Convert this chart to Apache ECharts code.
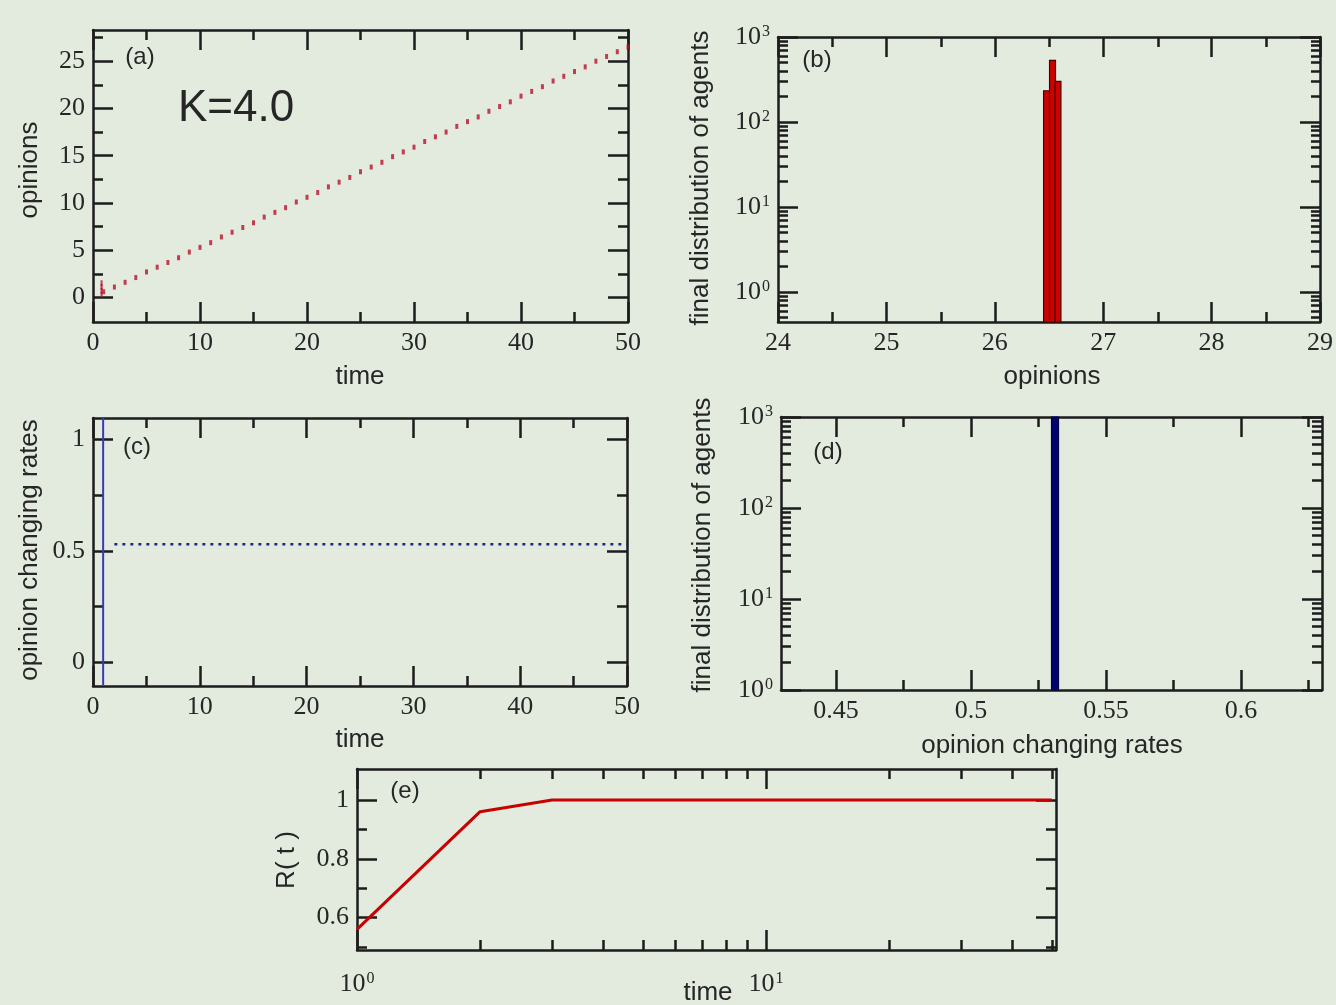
<!DOCTYPE html>
<html>
<head>
<meta charset="utf-8">
<title>opinion dynamics K=4.0</title>
<script src="https://cdn.jsdelivr.net/npm/echarts@6/dist/echarts.min.js"></script>
<style>
  html, body { margin: 0; padding: 0; background: #e3ebdf; }
  #chart { width: 1336px; height: 1005px; }
</style>
</head>
<body>
<div id="chart"></div>
<script>
// ---- data ----
// (a) opinions vs time
const timeA = [1,2,3,4,5,6,7,8,9,10,11,12,13,14,15,16,17,18,19,20,21,22,23,24,25,
  26,27,28,29,30,31,32,33,34,35,36,37,38,39,40,41,42,43,44,45,46,47,48,49,50];
const opinionA = [0.6,1.1,1.6,2.1,2.7,3.2,3.7,4.2,4.8,5.3,5.8,6.4,6.9,7.4,7.9,8.5,9.0,
  9.5,10.1,10.6,11.1,11.7,12.2,12.7,13.3,13.8,14.3,14.9,15.4,15.9,16.5,17.0,17.5,18.1,
  18.6,19.1,19.7,20.2,20.7,21.3,21.8,22.3,22.9,23.4,23.9,24.4,25.0,25.5,26.0,26.5];
const initTimeA = [0.8, 0.8, 0.8, 0.8];
const initOpinionA = [0.3, 0.7, 1.1, 1.5];

// (b) histogram of final opinions
const binLeftB = [26.45, 26.505, 26.555];
const binWidthB = 0.055;
const countB = [233, 532, 300];

// (c) opinion changing rates vs time
const initRateTime = 0.95;
const initRateRange = [-0.1, 1.1];
const timeC = [2,3,4,5,6,7,8,9,10,11,12,13,14,15,16,17,18,19,20,21,22,23,24,25,
  26,27,28,29,30,31,32,33,34,35,36,37,38,39,40,41,42,43,44,45,46,47,48,49,50];
const rateC = [0.53,0.53,0.53,0.53,0.53,0.53,0.53,0.53,0.53,0.53,0.53,0.53,0.53,0.53,
  0.53,0.53,0.53,0.53,0.53,0.53,0.53,0.53,0.53,0.53,0.53,0.53,0.53,0.53,0.53,0.53,0.53,
  0.53,0.53,0.53,0.53,0.53,0.53,0.53,0.53,0.53,0.53,0.53,0.53,0.53,0.53,0.53,0.53,0.53,0.53];

// (d) histogram of final changing rates
const binLeftD = [0.5298];
const binWidthD = 0.0026;
const countD = [1000];

// (e) R(t)
const timeE = [1, 2, 3, 4, 5, 7, 10, 20, 30, 40, 50];
const rE = [0.56, 0.96, 1.0, 1.0, 1.0, 1.0, 1.0, 1.0, 1.0, 1.0, 1.0];

// tick positions
const ticksLin50 = { major: [0,10,20,30,40,50], minor: [5,15,25,35,45] };
const ticksOpinA = { major: [0,5,10,15,20,25], minor: [2.5,7.5,12.5,17.5,22.5,27.5] };
const ticksOpinB = { major: [24,25,26,27,28,29], minor: [24.5,25.5,26.5,27.5,28.5] };
const ticksRateC = { major: [0,0.5,1], minor: [0.25,0.75] };
const ticksRateD = { major: [0.45,0.5,0.55,0.6], minor: [0.475,0.525,0.575,0.625] };
const ticksLog3 = { major: [1,10,100,1000],
  minor: [0.5,0.6,0.7,0.8,0.9,2,3,4,5,6,7,8,9,20,30,40,50,60,70,80,90,200,300,400,500,600,700,800,900] };
const ticksTimeE = { major: [1,10], minor: [2,3,4,5,6,7,8,9,20,30,40,50] };
const ticksRE = { major: [0.6,0.8,1], minor: [0.5,0.7,0.9] };

// ---- styling ----
const INK = '#1c1c1c';
const TXT = '#262626';
const serif = '"Liberation Serif", "DejaVu Serif", serif';
const sans = '"Liberation Sans", Arial, sans-serif';

const rects = [
  { left: 93,  top: 30,  width: 535, height: 292 },  // a
  { left: 778, top: 37,  width: 543, height: 285 },  // b
  { left: 93,  top: 418, width: 534, height: 268 },  // c
  { left: 781, top: 417, width: 541, height: 273 },  // d
  { left: 357, top: 769, width: 699, height: 181 }   // e
];

const logFmt = v => '10{s|' + Math.round(Math.log10(v)) + '}';
const supRich = { s: { fontSize: 16, fontFamily: serif, color: TXT, verticalAlign: 'top', padding: [0, 0, 0, 1] } };

// x / y specs per panel
const panels = [
  { x: { type: 'value', min: 0, max: 50, t: ticksLin50 },
    y: { type: 'value', min: -2.6, max: 28.3, t: ticksOpinA } },
  { x: { type: 'value', min: 24, max: 29, t: ticksOpinB },
    y: { type: 'log', min: 0.443, max: 1000, t: ticksLog3, fmt: logFmt } },
  { x: { type: 'value', min: 0, max: 50, t: ticksLin50 },
    y: { type: 'value', min: -0.105, max: 1.095, t: ticksRateC } },
  { x: { type: 'value', min: 0.4296, max: 0.63, t: ticksRateD },
    y: { type: 'log', min: 1, max: 1000, t: ticksLog3, fmt: logFmt } },
  { x: { type: 'log', min: 1, max: 51.2, t: ticksTimeE, fmt: logFmt, margin: 21 },
    y: { type: 'value', min: 0.49, max: 1.105, t: ticksRE } }
];

const grid = [];
const xAxis = [];
const yAxis = [];

function axis(gridIndex, pos, spec, layer) {
  const main = layer === 'main';
  const withLabels = main && (pos === 'bottom' || pos === 'left');
  const a = {
    gridIndex: gridIndex,
    type: spec.type,
    position: pos,
    min: spec.min,
    max: spec.max,
    splitLine: { show: false },
    axisLine: { show: main, onZero: false, lineStyle: { color: INK, width: 2.5 } },
    axisTick: {
      show: true, inside: true,
      length: main ? 20 : 10,
      customValues: main ? spec.t.major : spec.t.minor,
      lineStyle: { color: INK, width: 2.5 }
    },
    axisLabel: {
      show: withLabels,
      customValues: spec.t.major,
      fontFamily: serif, fontSize: 26, color: TXT,
      margin: spec.margin || 8,
      rich: supRich
    }
  };
  if (spec.type === 'log') a.logBase = 10;
  if (spec.fmt) a.axisLabel.formatter = spec.fmt;
  return a;
}

panels.forEach((p, i) => {
  grid[i] = Object.assign({}, rects[i]);
  grid[i + 5] = Object.assign({}, rects[i]);
});
// main axes first (index 2*i bottom/left, 2*i+1 top/right), then minor-tick overlays
panels.forEach((p, i) => {
  xAxis.push(axis(i, 'bottom', p.x, 'main'), axis(i, 'top', p.x, 'main'));
  yAxis.push(axis(i, 'left', p.y, 'main'), axis(i, 'right', p.y, 'main'));
});
panels.forEach((p, i) => {
  xAxis.push(axis(i + 5, 'bottom', p.x, 'minor'), axis(i + 5, 'top', p.x, 'minor'));
  yAxis.push(axis(i + 5, 'left', p.y, 'minor'), axis(i + 5, 'right', p.y, 'minor'));
});

function histRender(fill, stroke) {
  return function (params, api) {
    const cs = params.coordSys;
    const pTop = api.coord([api.value(0), api.value(2)]);
    const pEnd = api.coord([api.value(1), api.value(2)]);
    const bottom = cs.y + cs.height;
    return {
      type: 'rect',
      shape: { x: pTop[0], y: pTop[1], width: pEnd[0] - pTop[0], height: bottom - pTop[1] },
      style: { fill: fill, stroke: stroke, lineWidth: 1.2 }
    };
  };
}

const series = [
  // (a)
  { type: 'scatter', xAxisIndex: 0, yAxisIndex: 0,
    data: timeA.map((t, k) => [t, opinionA[k]]),
    symbol: 'rect', symbolSize: [3, 5], itemStyle: { color: '#b8102a' }, silent: true },
  { type: 'scatter', xAxisIndex: 0, yAxisIndex: 0,
    data: initTimeA.map((t, k) => [t, initOpinionA[k]]),
    symbol: 'rect', symbolSize: [2, 6], itemStyle: { color: '#b8102a' }, silent: true },
  // (b)
  { type: 'custom', xAxisIndex: 2, yAxisIndex: 2,
    data: binLeftB.map((l, k) => [l, l + binWidthB, countB[k]]),
    encode: { x: [0, 1], y: 2 },
    renderItem: histRender('#cf0000', '#4a0000'), silent: true },
  // (c)
  { type: 'line', xAxisIndex: 4, yAxisIndex: 4,
    data: initRateRange.map(v => [initRateTime, v]),
    showSymbol: false, lineStyle: { color: '#3a3ab8', width: 2 }, silent: true },
  { type: 'line', xAxisIndex: 4, yAxisIndex: 4,
    data: timeC.map((t, k) => [t, rateC[k]]),
    showSymbol: false, lineStyle: { color: '#1f2a80', width: 2.5, type: [3, 5] }, silent: true },
  // (d)
  { type: 'custom', xAxisIndex: 6, yAxisIndex: 6,
    data: binLeftD.map((l, k) => [l, l + binWidthD, countD[k]]),
    encode: { x: [0, 1], y: 2 },
    renderItem: histRender('#00006e', '#00004a'), silent: true },
  // (e)
  { type: 'line', xAxisIndex: 8, yAxisIndex: 8,
    data: timeE.map((t, k) => [t, rE[k]]),
    showSymbol: false, lineStyle: { color: '#c80000', width: 3 }, silent: true }
];

function label(text, x, y, size, rot, font) {
  return {
    type: 'text', x: x, y: y, rotation: rot || 0, silent: true,
    style: { text: text, font: (size || 26) + 'px ' + (font || sans), fill: TXT,
      align: 'center', verticalAlign: 'middle' }
  };
}
const V = Math.PI / 2;
const graphic = [
  label('K=4.0', 236, 109, 44),
  label('(a)', 140, 57, 24),
  label('(b)', 817, 60, 24),
  label('(c)', 137, 447, 24),
  label('(d)', 828, 452, 24),
  label('(e)', 405, 791, 24),
  label('time', 360, 377, 26),
  label('opinions', 1052, 377, 26),
  label('time', 360, 740, 26),
  label('opinion changing rates', 1052, 746, 26),
  label('time', 708, 993, 26),
  label('opinions', 30, 170, 26, V),
  label('final distribution of agents', 701, 178, 26, V),
  label('opinion changing rates', 30, 550, 26, V),
  label('final distribution of agents', 703, 545, 26, V),
  label('R( t )', 287, 860, 26, V)
];

const chart = echarts.init(document.getElementById('chart'));
chart.setOption({
  backgroundColor: 'transparent',
  animation: false,
  grid: grid,
  xAxis: xAxis,
  yAxis: yAxis,
  series: series,
  graphic: graphic
});
</script>
</body>
</html>
